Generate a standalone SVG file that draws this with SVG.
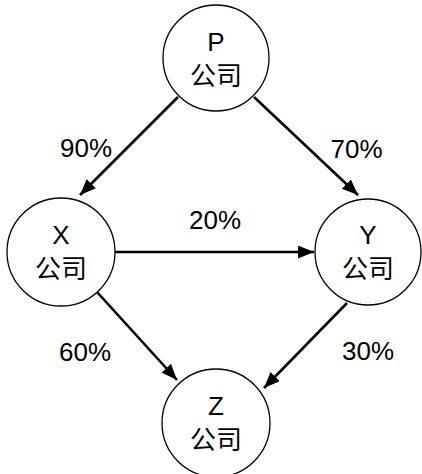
<svg xmlns="http://www.w3.org/2000/svg" width="422" height="474" viewBox="0 0 422 474">
<defs>
<style>
.node circle{fill:#fff;stroke:#000;stroke-width:1.3}
text{font-family:"Liberation Sans","Noto Sans CJK SC",sans-serif;font-size:26px;fill:#000;text-anchor:middle}
.edges line{stroke:#000;stroke-width:2.6}
</style>
<marker id="arr" markerUnits="userSpaceOnUse" markerWidth="18" markerHeight="14" refX="16" refY="6.5" orient="auto">
<path d="M0,0 L16,6.5 L0,13 z" fill="#000"/>
</marker>
</defs>
<rect width="422" height="474" fill="#fff"/>
<g class="edges">
<line x1="178" y1="97" x2="80" y2="195" marker-end="url(#arr)"/>
<line x1="254" y1="97" x2="358" y2="195" marker-end="url(#arr)"/>
<line x1="115" y1="252" x2="314" y2="252" marker-end="url(#arr)"/>
<line x1="97" y1="292" x2="177" y2="380" marker-end="url(#arr)"/>
<line x1="347" y1="303" x2="264" y2="388" marker-end="url(#arr)"/>
<text x="86" y="157">90%</text>
<text x="356.5" y="158">70%</text>
<text x="215" y="229">20%</text>
<text x="85" y="361">60%</text>
<text x="368" y="360">30%</text>
</g>
<g id="P" class="node"><circle cx="216" cy="58" r="53"/><text x="216" y="51">P</text><text x="216" y="85">公司</text></g>
<g id="X" class="node"><circle cx="61" cy="252" r="54"/><text x="61" y="244">X</text><text x="61" y="278">公司</text></g>
<g id="Y" class="node"><circle cx="368" cy="252" r="53"/><text x="368" y="244">Y</text><text x="368" y="278">公司</text></g>
<g id="Z" class="node"><circle cx="216" cy="423" r="54"/><text x="216" y="415">Z</text><text x="216" y="449">公司</text></g>
</svg>
